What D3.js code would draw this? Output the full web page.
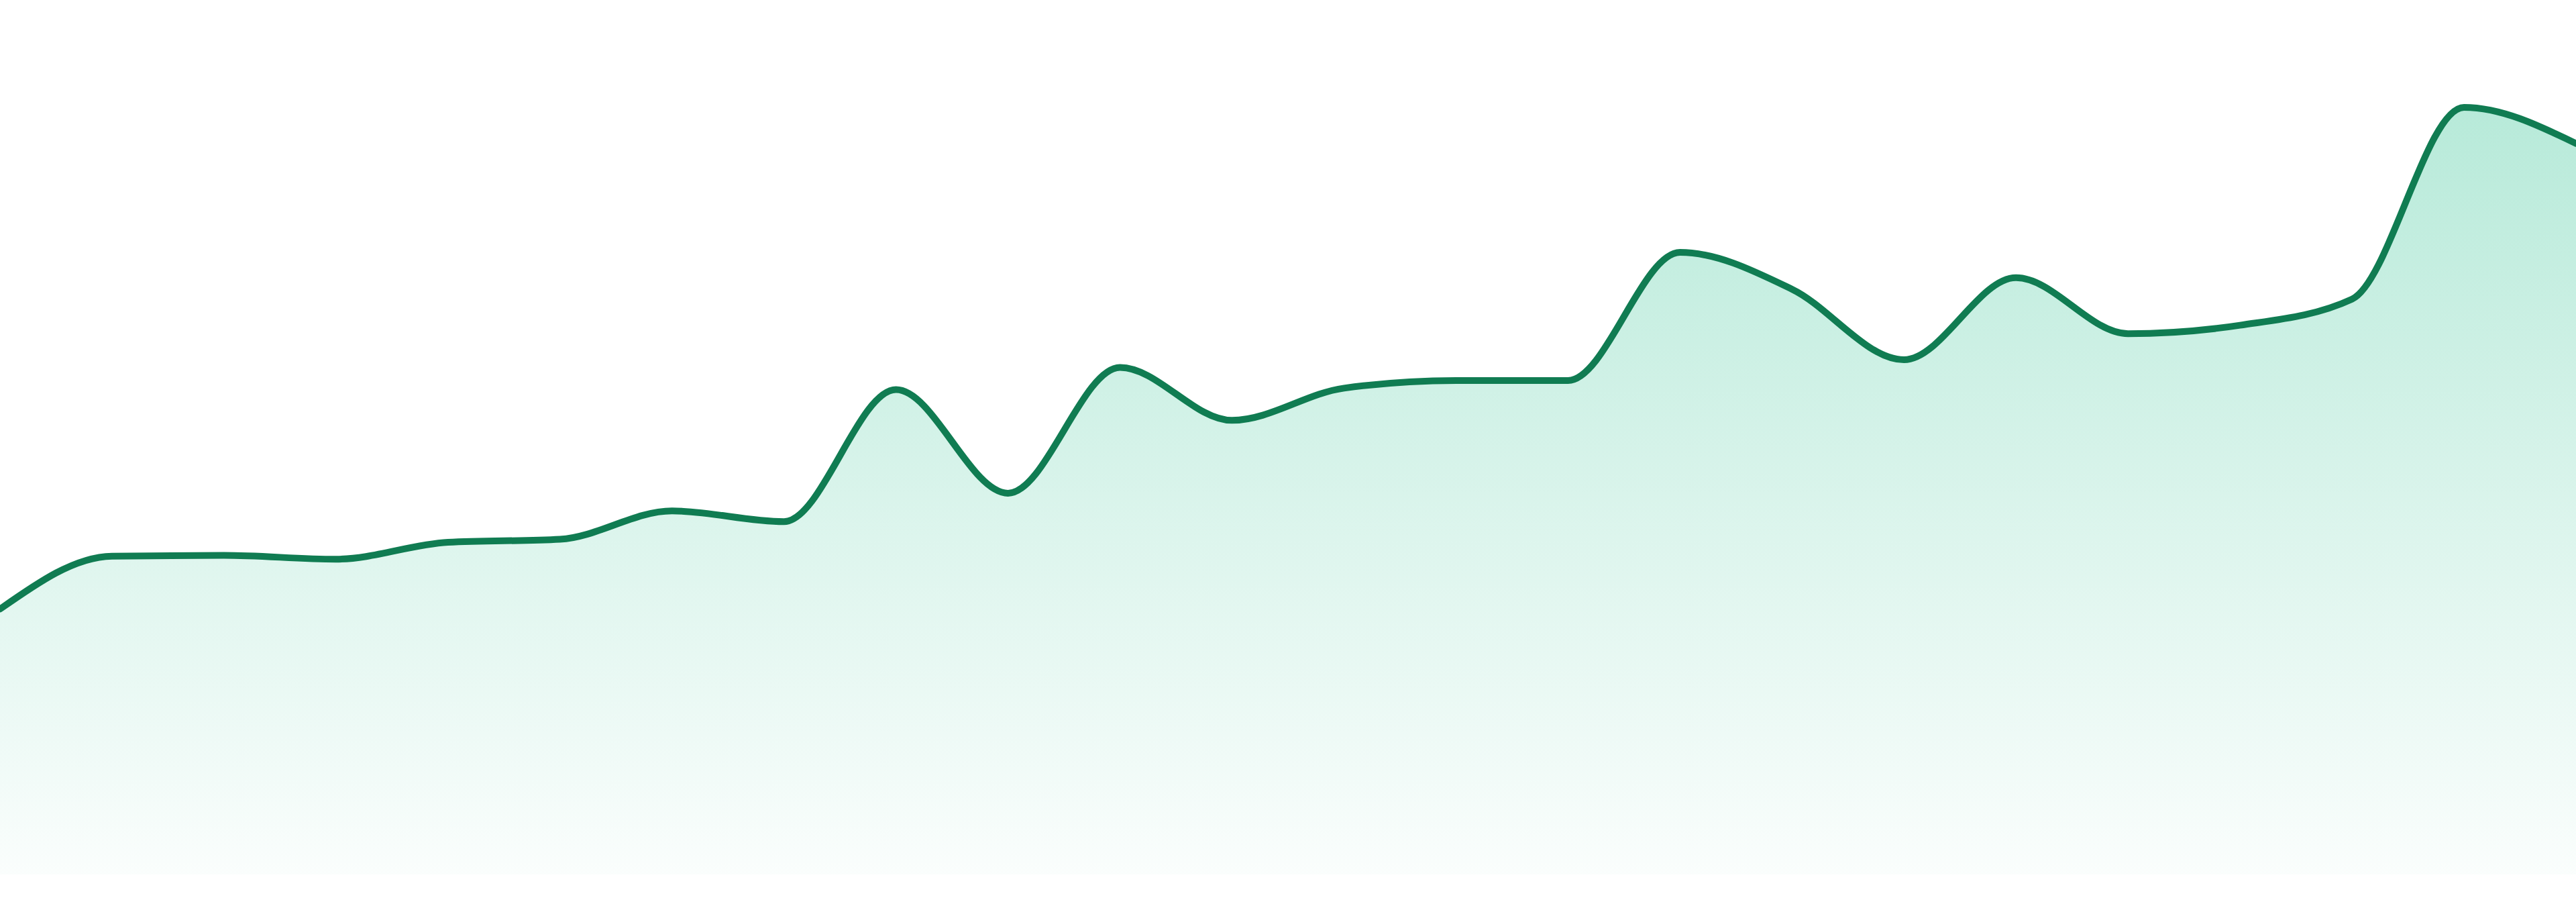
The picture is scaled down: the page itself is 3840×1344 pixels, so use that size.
<!DOCTYPE html>
<html lang="en">
<head>
    <meta charset="UTF-8">
    <meta name="viewport" content="width=device-width, initial-scale=1.0">
    <script type="text/javascript" src="https://d3js.org/d3.v7.min.js"></script>
    <title>Area</title>
    <style>
        html, body { margin: 0; padding: 0; background: #fff; overflow: hidden; }
        svg { display: block; }
    </style>
</head>
<body>
    <svg id="plot"></svg>

    <script type="text/javascript">
        // one point per day
        const days = [1, 2, 3, 4, 5, 6, 7, 8, 9, 10, 11, 12, 13, 14, 15, 16, 17, 18, 19, 20, 21, 22, 23, 24];
        const values = [34.6, 41.5, 41.6, 41.1, 43.3, 43.7, 47.4, 46.0, 63.2, 49.7, 66.1, 59.2,
                        63.4, 64.4, 64.4, 81.1, 76.3, 67.1, 77.8, 70.5, 71.6, 75.0, 100, 95.3];
        const yDomain = [0, 100];

        const width = 3840;
        const height = 1344;
        const margin = {"top": 160, "bottom": 41, "left": 0, "right": 0};

        const data = days.map((d, i) => ({day: d, value: values[i]}));

        const svg = d3.select("#plot").attr("width", width).attr("height", height);

        var x = d3.scalePoint()
            .domain(days)
            .range([margin.left, width - margin.right]);

        var y = d3.scaleLinear()
            .domain(yDomain)
            .range([height - margin.bottom, margin.top]);

        const grad = svg.append("defs").append("linearGradient")
            .attr("id", "fillGrad")
            .attr("gradientUnits", "userSpaceOnUse")
            .attr("x1", 0).attr("x2", 0)
            .attr("y1", y(yDomain[1])).attr("y2", y(yDomain[0]));
        grad.append("stop").attr("offset", "0%").attr("stop-color", "#10b981").attr("stop-opacity", 0.3);
        grad.append("stop").attr("offset", "100%").attr("stop-color", "#10b981").attr("stop-opacity", 0.02);

        var area = d3.area()
            .x(d => x(d.day))
            .y0(y(0))
            .y1(d => y(d.value))
            .curve(d3.curveMonotoneX);

        var line = d3.line()
            .x(d => x(d.day))
            .y(d => y(d.value))
            .curve(d3.curveMonotoneX);

        svg.append("path").attr("d", area(data)).attr("fill", "url(#fillGrad)");
        svg.append("path").attr("d", line(data)).attr("fill", "none")
            .attr("stroke", "#107c52").attr("stroke-width", 10)
            .attr("stroke-linejoin", "round").attr("stroke-linecap", "round");
    </script>
</body>
</html>
